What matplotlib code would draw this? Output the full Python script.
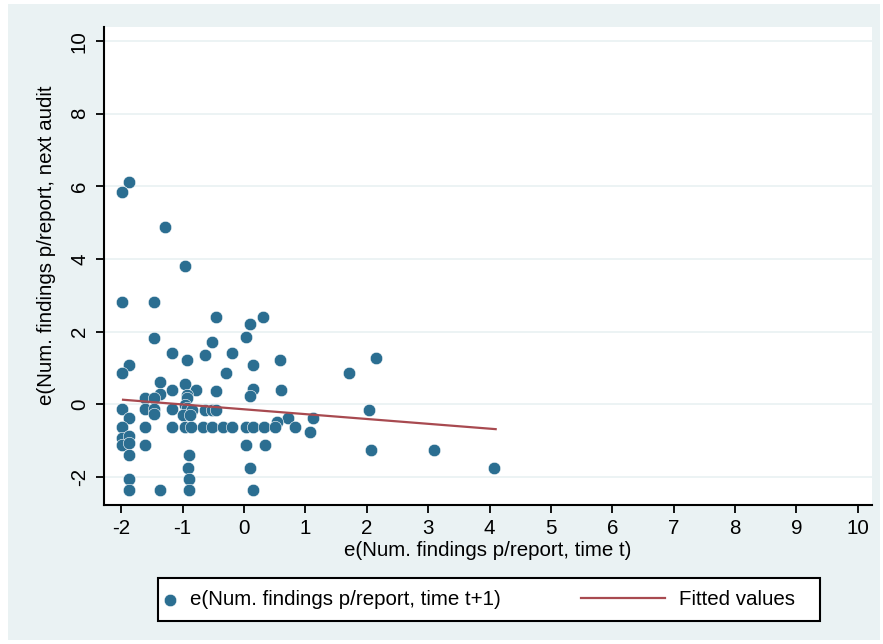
import matplotlib
matplotlib.use("Agg")
import matplotlib.pyplot as plt
from matplotlib.patches import Rectangle
from matplotlib.lines import Line2D
from matplotlib.legend_handler import HandlerBase

plt.rcParams['font.family'] = ['Liberation Sans', 'DejaVu Sans']
plt.rcParams['axes.unicode_minus'] = False

# residuals
x_t = [-1.87, -1.99, -1.29, -0.96,
       -1.99, -1.47, -0.45, 0.10, 0.31,
       -1.47, -0.52, 0.03,
       -1.18, -0.92, -0.63, -0.19, 0.14, 0.58, -1.87,
       -1.99, -0.30, 1.71, 2.15,
       -1.36, -0.96, -1.18, -1.36, -0.78, -0.45, 0.14, 0.10, 0.61,
       -0.92, -0.92, -1.62, -1.47,
       -1.99, -1.62, -1.47, -1.47, -1.18,
       -0.96, -0.92, -0.85, -0.99, -0.88,
       -0.63, -0.52, -0.45, 2.04,
       -1.87, 0.72, 1.12, 0.54, 1.08,
       -1.99, -1.62, -1.18, -0.96, -0.86, -0.67, -0.52, -0.34, -0.19, 0.03, 0.14, 0.32, 0.50, 0.83,
       -1.99, -1.87, -1.99, -1.87,
       -1.62, 0.03, 0.35,
       -1.87, -0.90,
       -0.91, 0.10,
       -1.87, -0.90,
       -1.87, -1.36, -0.90, 0.14,
       2.07, 3.10, 4.08]
y_next = [6.11, 5.85, 4.87, 3.81,
          2.82, 2.82, 2.39, 2.20, 2.40,
          1.83, 1.71, 1.84,
          1.40, 1.21, 1.34, 1.40, 1.09, 1.21, 1.09,
          0.85, 0.85, 0.85, 1.28,
          0.60, 0.55, 0.40, 0.29, 0.40, 0.35, 0.42, 0.23, 0.40,
          0.24, 0.16, 0.17, 0.17,
          -0.14, -0.14, -0.14, -0.28, -0.14,
          -0.03, -0.12, -0.17, -0.30, -0.30,
          -0.15, -0.15, -0.15, -0.15,
          -0.39, -0.39, -0.39, -0.50, -0.77,
          -0.64, -0.64, -0.64, -0.64, -0.64, -0.64, -0.64, -0.64, -0.64, -0.64, -0.64, -0.64, -0.64, -0.64,
          -0.94, -0.88, -1.13, -1.08,
          -1.14, -1.14, -1.14,
          -1.39, -1.39,
          -1.75, -1.75,
          -2.06, -2.06,
          -2.37, -2.37, -2.37, -2.37,
          -1.26, -1.26, -1.75]

# fitted line end points
fit_x = [-1.97, 4.10]
fit_y = [0.12, -0.69]

xticks = list(range(-2, 11))
yticks = list(range(-2, 11, 2))

bg = '#EAF2F3'
dot_c = '#2B6E91'
line_c = '#A84A50'
fs = 14.8

W, H = 883, 644


class LongLine(HandlerBase):
    # legend line that reaches further left than the handle box
    def create_artists(self, legend, orig_handle, xdescent, ydescent,
                       width, height, fontsize, trans):
        y = height / 2 - ydescent
        x1 = width - xdescent
        ln = Line2D([x1 - 60.5, x1], [y, y], color=orig_handle.get_color(),
                    lw=orig_handle.get_linewidth())
        ln.set_transform(trans)
        return [ln]


fig = plt.figure(figsize=(W / 100, H / 100), dpi=100)
fig.patch.set_facecolor('white')
fig.add_artist(Rectangle((8 / W, 1 - 640 / H), 872 / W, 636 / H, transform=fig.transFigure,
                         facecolor=bg, edgecolor='none', zorder=-5))

ax = fig.add_axes([104 / W, 1 - 505 / H, 768 / W, 478 / H])
ax.set_facecolor('white')

ax.yaxis.grid(True, color=bg, lw=1.3)
ax.set_axisbelow(True)

sc = ax.scatter(x_t, y_next, s=80, color=dot_c, edgecolors='white', linewidths=0.4,
                zorder=3, label='e(Num. findings p/report, time t+1)')
fl, = ax.plot(fit_x, fit_y, color=line_c, lw=1.6, zorder=4, label='Fitted values')

ax.set_xlim(-2.28, 10.23)
ax.set_ylim(-2.78, 10.39)
ax.set_xticks(xticks)
ax.set_yticks(yticks)
ax.tick_params(direction='out', length=5.8, width=1.3, labelsize=fs, pad=4, colors='black')
ax.tick_params(axis='y', labelrotation=90, pad=5)
for lab in ax.get_yticklabels():
    lab.set_va('center')
for s in ['top', 'right']:
    ax.spines[s].set_visible(False)
for s in ['left', 'bottom']:
    ax.spines[s].set_linewidth(1.5)

ax.set_xlabel('e(Num. findings p/report, time t)', fontsize=fs)
ax.xaxis.set_label_coords(0.5, (505 - 551) / 478)
ax.xaxis.label.set_va('center')
ax.set_ylabel('e(Num. findings p/report, next audit', fontsize=fs)
ax.yaxis.set_label_coords((47 - 104) / 768, (505 - 245) / 478)
ax.yaxis.label.set_va('center')

# legend box
fig.add_artist(Rectangle((157.5 / W, 1 - 621 / H), 662.5 / W, 43 / H, transform=fig.transFigure,
                         facecolor='white', edgecolor='black', lw=1.5, zorder=1))
fig.legend(handles=[sc, fl], handler_map={fl: LongLine()}, ncol=2, frameon=False,
           loc='center left', bbox_to_anchor=(163.5 / W, 1 - 599.5 / H),
           borderpad=0, borderaxespad=0, handlelength=0.6, handletextpad=0.68,
           columnspacing=7.4, fontsize=fs, scatterpoints=1)

fig.savefig('out.png', dpi=100, facecolor=fig.get_facecolor())
